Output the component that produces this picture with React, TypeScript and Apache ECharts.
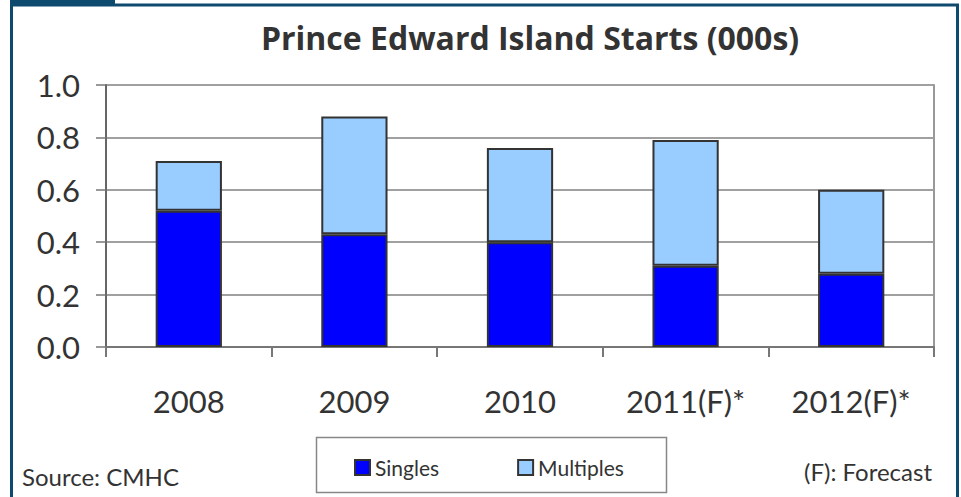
import React, { useEffect, useRef } from "react";
import * as echarts from "echarts";

const categories = ["2008", "2009", "2010", "2011(F)*", "2012(F)*"];
const singles = [0.52, 0.43, 0.4, 0.31, 0.28];
const multiples = [0.19, 0.45, 0.36, 0.48, 0.32];
const titleText = "Prince Edward Island Starts (000s)";
const sourceText = "Source: CMHC";
const forecastText = "(F): Forecast";

const FONT = "Lato, 'DejaVu Sans', sans-serif";
const NAVY = "#0e4a6e";
const TXT = "#333333";

export default function App() {
  const ref = useRef<HTMLDivElement>(null);
  useEffect(() => {
    if (!ref.current) return;
    const chart = echarts.init(ref.current, undefined, { renderer: "svg" });
    chart.setOption({
      animation: false,
      backgroundColor: "#ffffff",
      title: {
        text: titleText,
        left: 525,
        textAlign: "center",
        top: 16,
        textStyle: { fontFamily: "'Open Sans', Lato, sans-serif", fontSize: 32, fontWeight: "bold", color: TXT },
      },
      grid: { left: 106, right: 27, top: 85, bottom: 150 },
      legend: {
        left: 349,
        top: 452,
        itemWidth: 15,
        itemHeight: 15,
        itemGap: 78,
        icon: "rect",
        textStyle: { fontFamily: FONT, fontSize: 21, color: TXT },
        data: ["Singles", "Multiples"],
      },
      xAxis: {
        type: "category",
        data: categories,
        axisLine: { lineStyle: { color: "#777", width: 2 } },
        axisTick: { show: true, length: 10, lineStyle: { color: "#777", width: 2 } },
        axisLabel: { fontFamily: FONT, fontSize: 31, color: TXT, margin: 38 },
      },
      yAxis: [
        {
          type: "value",
          min: 0,
          max: 1,
          interval: 0.2,
          axisLine: { show: true, lineStyle: { color: "#666", width: 2 } },
          axisTick: { show: true, length: 10, lineStyle: { color: "#777", width: 1.5 } },
          axisLabel: {
            fontFamily: FONT,
            fontSize: 31,
            color: TXT,
            margin: 26,
            formatter: (v: number) => v.toFixed(1),
          },
          splitLine: { show: true, lineStyle: { color: "#808080", width: 1.5 } },
        },
        {
          type: "value",
          min: 0,
          max: 1,
          interval: 0.2,
          position: "right",
          axisLine: { show: true, lineStyle: { color: "#999", width: 2 } },
          axisTick: { show: false },
          axisLabel: { show: false },
          splitLine: { show: false },
        },
      ],
      series: [
        {
          name: "Singles",
          type: "bar",
          stack: "total",
          barWidth: "40%",
          data: singles,
          itemStyle: { color: "#0000ff", borderColor: "#333", borderWidth: 2 },
        },
        {
          name: "Multiples",
          type: "bar",
          stack: "total",
          barWidth: "40%",
          data: multiples,
          itemStyle: { color: "#99ccff", borderColor: "#333", borderWidth: 2 },
        },
      ],
      graphic: [
        {
          type: "rect",
          shape: { x: 11.5, y: 5, width: 946, height: 520 },
          style: { fill: "none", stroke: NAVY, lineWidth: 3 },
          silent: true,
        },
        {
          type: "rect",
          shape: { x: 10, y: 0, width: 105, height: 5 },
          style: { fill: NAVY },
          silent: true,
        },
        {
          type: "rect",
          shape: { x: 316.5, y: 437.5, width: 350, height: 55 },
          style: { fill: "none", stroke: "#888", lineWidth: 1.5 },
          silent: true,
          z: -1,
        },
        {
          type: "text",
          left: 22,
          top: 464,
          style: { text: sourceText, fontFamily: FONT, fontSize: 24, fill: TXT },
        },
        {
          type: "text",
          right: 29,
          top: 459,
          style: { text: forecastText, fontFamily: FONT, fontSize: 24, fill: TXT },
        },
      ],
    });
    return () => chart.dispose();
  }, []);
  return (
    <div
      ref={ref}
      style={{ position: "absolute", left: 0, top: 0, width: 961, height: 497 }}
    />
  );
}
